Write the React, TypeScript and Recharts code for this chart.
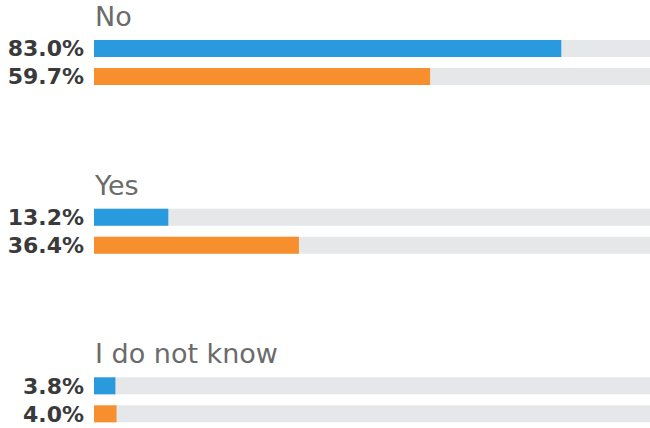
import React from 'react';
import { BarChart, Bar, XAxis, YAxis, LabelList } from 'recharts';

const categories = ['No', 'Yes', 'I do not know'];
const blueValues = [83.0, 13.2, 3.8];
const orangeValues = [59.7, 36.4, 4.0];

const data = categories.map((name, i) => ({
  name,
  blue: blueValues[i],
  orange: orangeValues[i],
}));

const LEFT = 94;
const FONT = '"DejaVu Sans", "Noto Sans", sans-serif';

// group title sits above the first (blue) bar of each group
function GroupTitle(props: any) {
  const { x, y, value } = props;
  return (
    <text x={Number(x) + 1} y={Number(y) - 14} fill="#6b6b6b" fontSize={27} fontFamily={FONT}>
      {value}
    </text>
  );
}

const fmt = (v: any) => `${Number(v).toFixed(1)}%`;
const labelStyle = { fill: '#3a3a3a', fontSize: 22, fontWeight: 700, fontFamily: FONT };

export default function App() {
  return (
    <div style={{ position: 'fixed', top: 0, left: 0, width: 650, height: 428, overflow: 'hidden', background: '#fff' }}>
      <div style={{ position: 'absolute', top: -22, left: 0 }}>
        <BarChart
          layout="vertical"
          width={660}
          height={506}
          data={data}
          margin={{ top: 0, right: 3, left: LEFT, bottom: 0 }}
          barSize={17}
          barGap={11}
          barCategoryGap={0}
        >
          <XAxis type="number" domain={[0, 100]} hide />
          <YAxis type="category" dataKey="name" hide />
          <Bar dataKey="blue" fill="#299ade" background={{ fill: '#e6e7e9' }} isAnimationActive={false}>
            <LabelList dataKey="blue" position="left" offset={10} formatter={fmt} style={labelStyle} />
            <LabelList dataKey="name" content={<GroupTitle />} />
          </Bar>
          <Bar dataKey="orange" fill="#f78f2e" background={{ fill: '#e6e7e9' }} isAnimationActive={false}>
            <LabelList dataKey="orange" position="left" offset={10} formatter={fmt} style={labelStyle} />
          </Bar>
        </BarChart>
      </div>
    </div>
  );
}
